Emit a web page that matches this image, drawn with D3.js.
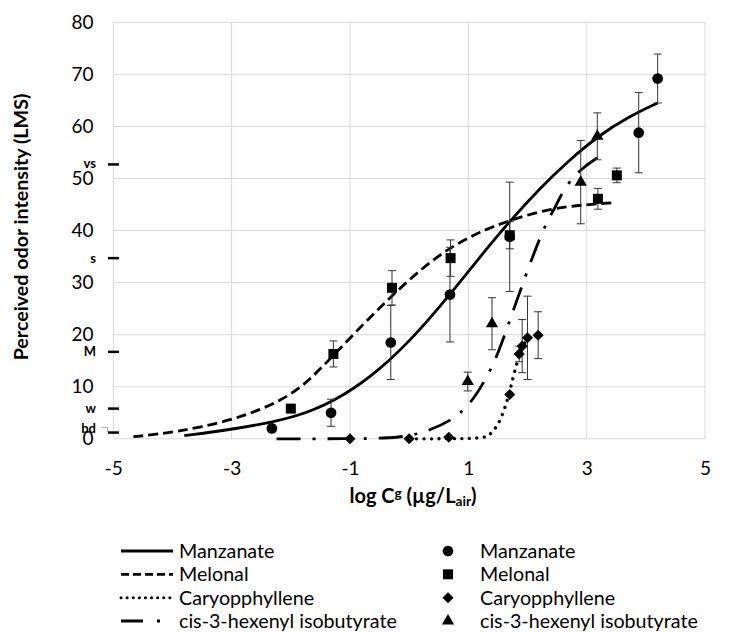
<!DOCTYPE html>
<html>
<head>
<meta charset="utf-8">
<script src="https://cdn.jsdelivr.net/npm/d3@7/dist/d3.min.js"></script>
<style>
  body { margin: 0; background: #fff; }
  text { font-family: Lato, "Open Sans", sans-serif; fill: #000; }
</style>
</head>
<body>
<svg id="chart" width="729" height="632"></svg>
<script>
// ---- data ----
var seriesNames = ["Manzanate", "Melonal", "Caryopphyllene", "cis-3-hexenyl isobutyrate"];

// measured points: [log Cg, intensity, error]
var manzanatePts = [[-2.32, 2.0, 0], [-1.32, 5.0, 2.6], [-0.31, 18.5, 7.1], [0.69, 27.7, 9.1],
                    [1.70, 38.8, 10.5], [3.88, 58.8, 7.7], [4.20, 69.2, 4.7]];
var melonalPts = [[-2.0, 5.8, 0], [-1.28, 16.3, 2.5], [-0.29, 29.0, 3.3], [0.70, 34.7, 3.5],
                  [1.70, 39.1, 2.6], [3.19, 46.1, 2.0], [3.51, 50.6, 1.4]];
var caryoPts = [[-1.0, 0, 0], [0.0, 0, 0], [0.67, 0.3, 0], [1.70, 8.5, 0], [1.86, 16.3, 1.5],
                [1.91, 17.8, 5.1], [2.0, 19.4, 8.0], [2.18, 19.9, 4.5]];
var hexenylPts = [[0.99, 11.0, 1.8], [1.40, 22.1, 5.0], [2.90, 49.3, 8.0], [3.18, 58.1, 4.5]];

// fitted curves: [log Cg, intensity]
var manzanateFit = [[-3.8, 0.6], [-3.0, 1.8], [-2.3, 3.2], [-1.7, 5.0], [-1.1, 8.3], [-0.5, 13.2],
                    [0.1, 19.8], [0.69, 27.7], [1.2, 35.0], [1.7, 41.8], [2.2, 48.0], [2.7, 53.5],
                    [3.2, 58.2], [3.7, 61.8], [4.2, 64.5]];
var melonalFit = [[-4.66, 0.4], [-4.3, 0.8], [-3.53, 2.1], [-2.69, 4.6], [-2.0, 8.3], [-1.64, 11.8],
                  [-1.28, 16.0], [-0.77, 22.1], [-0.29, 27.5], [0.24, 33.0], [0.70, 36.8], [1.2, 39.8],
                  [1.70, 42.0], [2.37, 44.2], [3.0, 45.0], [3.5, 45.4]];
var caryoFit = [[0.0, 0], [0.64, 0], [1.24, 0.1], [1.36, 0.6], [1.52, 2.9], [1.62, 6.0], [1.70, 9.0],
                [1.77, 12.5], [1.87, 16.5], [1.95, 18.5], [2.03, 19.5]];
var hexenylFit = [[-2.24, 0], [-1.0, 0], [-0.4, 0.1], [0.0, 0.5], [0.35, 1.6], [0.75, 3.8], [0.92, 5.6],
                  [1.08, 7.5], [1.31, 11.7], [1.5, 16.3], [1.64, 20.8], [1.79, 25.6], [2.0, 32.4],
                  [2.29, 41.0], [2.46, 44.2], [2.63, 48.4], [2.91, 51.9], [3.18, 54.0]];

var xTicks = [-5, -3, -1, 1, 3, 5];
var yTicks = [0, 10, 20, 30, 40, 50, 60, 70, 80];
var lmsLabels = ["bd", "w", "M", "s", "vs"];
var lmsValues = [1.2, 5.8, 16.7, 34.7, 52.7];

// ---- layout ----
var svg = d3.select("#chart");
var x = d3.scaleLinear().domain([-5, 5]).range([113.3, 705]);
var y = d3.scaleLinear().domain([0, 80]).range([438.8, 22.3]);

// makes a text a given width by picking its font size
function fitWidth(sel, width) {
    var n = sel.node();
    var fs = parseFloat(sel.attr("font-size"));
    sel.attr("font-size", fs * width / n.getComputedTextLength());
}

var grid = svg.append("g").attr("class", "grid");
grid.selectAll("line.h").data(yTicks).enter().append("line")
    .attr("x1", x(-5)).attr("x2", x(5))
    .attr("y1", function(d) { return y(d); }).attr("y2", function(d) { return y(d); })
    .attr("stroke", "#d9d9d9").attr("stroke-width", 1);
grid.selectAll("line.v").data(xTicks).enter().append("line")
    .attr("y1", y(0)).attr("y2", y(80))
    .attr("x1", function(d) { return x(d); }).attr("x2", function(d) { return x(d); })
    .attr("stroke", "#d9d9d9").attr("stroke-width", 1);

// axes (labels only, lines come from the grid)
var plain = function(d) { return String(d); };
var yAxis = svg.append("g").attr("transform", "translate(93.5,0)")
    .call(d3.axisLeft(y).tickValues(yTicks).tickSize(0).tickPadding(0).tickFormat(plain));
yAxis.select(".domain").remove();
yAxis.selectAll("text").attr("font-size", 19).attr("font-family", "Lato").attr("fill", "#000");

var xAxis = svg.append("g").attr("transform", "translate(0,468)")
    .call(d3.axisBottom(x).tickValues(xTicks).tickSize(0).tickPadding(0).tickFormat(plain));
xAxis.select(".domain").remove();
xAxis.selectAll("text").attr("font-size", 19).attr("font-family", "Lato").attr("fill", "#000")
    .attr("dy", "0.35em");

// LMS verbal labels
var lms = svg.append("g");
lms.selectAll("line").data(lmsValues).enter().append("line")
    .attr("x1", 108).attr("x2", 119)
    .attr("y1", function(d) { return y(d); }).attr("y2", function(d) { return y(d); })
    .attr("stroke", "#000").attr("stroke-width", 2.5);
lms.selectAll("text").data(lmsLabels).enter().append("text")
    .attr("x", 96)
    .attr("y", function(d, i) { return y(lmsValues[i]) + (d === "bd" ? -4.5 : d === "vs" ? -0.5 : 0); })
    .attr("dy", "0.35em")
    .attr("text-anchor", "end")
    .attr("font-size", 13).attr("font-weight", "bold")
    .text(function(d) { return d; });
lms.append("path")
    .attr("d", "M101.5," + (y(lmsValues[0]) - 5) + "H107.5V" + (y(lmsValues[0]) - 1))
    .attr("fill", "none").attr("stroke", "#a6a6a6").attr("stroke-width", 1);

// ---- fitted curves ----
var line = d3.line()
    .x(function(d) { return x(d[0]); })
    .y(function(d) { return y(d[1]); })
    .curve(d3.curveBasis);

var curves = [
    {data: manzanateFit, dash: null, cap: "butt"},
    {data: melonalFit, dash: "10,5", cap: "butt"},
    {data: caryoFit, dash: "0.1,7.4", cap: "round"},
    {data: hexenylFit, dash: "24,12,3,12", cap: "butt"}
];
svg.append("g").selectAll("path").data(curves).enter().append("path")
    .attr("d", function(d) { return line(d.data); })
    .attr("fill", "none")
    .attr("stroke", "#000")
    .attr("stroke-width", function(d, i) { return i === 2 ? 3.3 : 2.8; })
    .attr("stroke-linecap", function(d) { return d.cap; })
    .attr("stroke-dasharray", function(d) { return d.dash; });

// ---- measured points with error bars ----
var symbols = [
    d3.symbol().type(d3.symbolCircle).size(90),
    d3.symbol().type(d3.symbolSquare).size(100),
    d3.symbol().type(d3.symbolSquare).size(62),
    d3.symbol().type(d3.symbolTriangle).size(65)
];
var rotations = [0, 0, 45, 0];
var pointSets = [manzanatePts, melonalPts, caryoPts, hexenylPts];

pointSets.forEach(function(pts, i) {
    var g = svg.append("g");
    var withErr = pts.filter(function(d) { return d[2] > 0; });
    g.selectAll("path.err").data(withErr).enter().append("path")
        .attr("d", function(d) {
            var cx = x(d[0]), y1 = y(d[1] + d[2]), y2 = y(d[1] - d[2]);
            return "M" + (cx - 4) + "," + y1 + "H" + (cx + 4) + "M" + cx + "," + y1 + "V" + y2 +
                   "M" + (cx - 4) + "," + y2 + "H" + (cx + 4);
        })
        .attr("fill", "none").attr("stroke", "#333").attr("stroke-width", 1);
    g.selectAll("path.pt").data(pts).enter().append("path")
        .attr("d", symbols[i])
        .attr("transform", function(d) {
            return "translate(" + x(d[0]) + "," + y(d[1]) + ") rotate(" + rotations[i] + ")";
        })
        .attr("fill", "#000");
});

// ---- axis titles ----
var yt = svg.append("text")
    .attr("transform", "translate(28,227) rotate(-90)")
    .attr("text-anchor", "middle")
    .attr("font-size", 18).attr("font-weight", "bold")
    .text("Perceived odor intensity (LMS)");
fitWidth(yt, 267);

var xt = svg.append("text")
    .attr("x", 413).attr("y", 503)
    .attr("text-anchor", "middle")
    .attr("font-size", 18).attr("font-weight", "bold");
xt.append("tspan").text("log C");
xt.append("tspan").attr("dy", "-0.4em").attr("font-size", "0.68em").text("g");
xt.append("tspan").attr("dy", "0.272em").text(" (µg/L");
xt.append("tspan").attr("dy", "0.22em").attr("font-size", "0.68em").text("air");
xt.append("tspan").attr("dy", "-0.15em").text(")");
fitWidth(xt, 127);

// ---- legend ----
var legendRows = [551, 574.3, 597.7, 621];
var legend = svg.append("g");
var probe = legend.append("text").attr("font-size", 18).text(seriesNames[3]);
fitWidth(probe, 218);
var legendFont = parseFloat(probe.attr("font-size"));
probe.remove();

seriesNames.forEach(function(name, i) {
    var ly = legendRows[i];
    legend.append("line")
        .attr("x1", 121).attr("x2", 173).attr("y1", ly).attr("y2", ly)
        .attr("stroke", "#000")
        .attr("stroke-width", i === 2 ? 3 : 2.8)
        .attr("stroke-linecap", curves[i].cap)
        .attr("stroke-dasharray", [null, "8,4", "0.1,6", "22,14,3,20"][i]);
    legend.append("text").attr("x", 179).attr("y", ly).attr("dy", "0.35em")
        .attr("font-size", legendFont).text(name);
    legend.append("path")
        .attr("d", symbols[i])
        .attr("transform", "translate(448," + ly + ") rotate(" + rotations[i] + ")")
        .attr("fill", "#000");
    legend.append("text").attr("x", 480).attr("y", ly).attr("dy", "0.35em")
        .attr("font-size", legendFont).text(name);
});
</script>
</body>
</html>
